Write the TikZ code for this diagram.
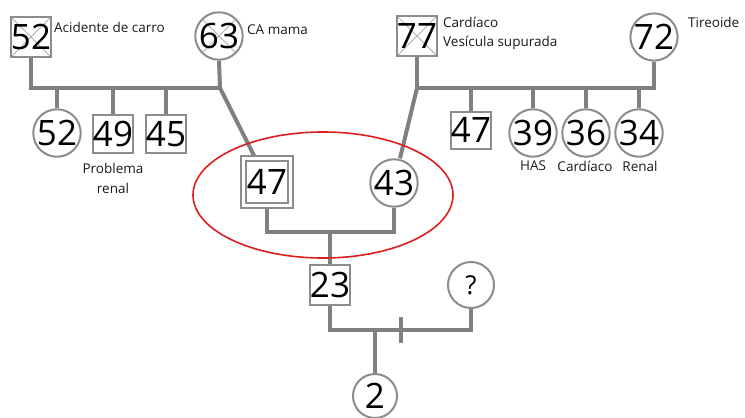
\documentclass[tikz,border=0pt]{standalone}
\usepackage{fontspec}
\setmainfont{Open Sans}
\pgfdeclarelayer{bg}
\pgfsetlayers{bg,main}
\begin{document}
\begin{tikzpicture}[x=1pt,y=-1pt,
  num/.style={font=\fontsize{35}{35}\selectfont, inner sep=0pt, draw=linegray, line width=2pt, fill=white, text=black},
  male/.style={num, rectangle, minimum size=40pt},
  fem/.style={num, circle, minimum size=43pt},
  dead/.style={path picture={\draw[xgray,line width=1pt] (path picture bounding box.north west) -- (path picture bounding box.south east) (path picture bounding box.north east) -- (path picture bounding box.south west);}},
  lbl/.style={font=\fontsize{13.5}{15}\selectfont, inner sep=0pt, text=black!90},
  conn/.style={draw=conngray, line width=4pt},
]
\definecolor{linegray}{RGB}{140,140,140}
\definecolor{conngray}{RGB}{128,128,128}
\definecolor{xgray}{RGB}{175,175,175}
\useasboundingbox (0,0) rectangle (745,418);

% coordinates
\coordinate (u1) at (220,88);
\coordinate (u2) at (417,88);
\coordinate (pu) at (330,232);
\coordinate (u3) at (375,330);
\coordinate (t1) at (401,317);
\coordinate (t2) at (401,343);

% nodes
\node[male,dead] (gp1m) at (31,37) {52};
\node[fem,dead] (gp1f) at (219,36) {63};
\node[fem] (a1) at (57,133) {52};
\node[male,minimum size=38pt] (a2) at (113,134) {49};
\node[male,minimum size=38pt] (a3) at (166,134) {45};
\node[male, minimum size=47pt, double=white, double distance=3.5pt, line width=1.8pt] (fa) at (267,182) {47};
\node[fem, minimum size=46pt] (mo) at (394,183) {43};
\node[male,dead] (gp2m) at (417,36) {77};
\node[fem] (gp2f) at (654,37) {72};
\node[male,minimum size=37pt] (b1) at (471,130) {47};
\node[fem,minimum size=41pt] (b2) at (533,133) {39};
\node[fem,minimum size=41pt] (b3) at (586,133) {36};
\node[fem,minimum size=41pt] (b4) at (639,133) {34};
\node[male] (p) at (330,285) {23};
\node[fem,minimum size=46pt,font=\fontsize{26}{26}\selectfont] (q) at (471,285) {?};
\node[fem,minimum size=44pt] (c) at (375,396) {2};

% connectors
\begin{pgfonlayer}{bg}
\draw[conn] (gp1m.south) |- (u1);
\draw[conn] (gp1f.south) -- (u1);
\draw[conn] (u1) -- ([xshift=-12pt]fa.north);
\foreach \n in {a1,a2,a3} \draw[conn] (\n.north) -- (\n.north |- u1);
\draw[conn] (gp2m.south) -- (u2);
\draw[conn] (gp2f.south) |- (u2);
\draw[conn] (u2) -- ([xshift=6pt]mo.north);
\foreach \n in {b1,b2,b3,b4} \draw[conn] (\n.north) -- (\n.north |- u2);
\draw[conn] (fa.south) |- (pu) -| (mo.south);
\draw[conn] (pu) -- (p.north);
\draw[conn] (p.south) |- (u3) -| (q.south);
\draw[conn] (u3) -- (c.north);
\draw[conn] (t1) -- (t2);
\end{pgfonlayer}

% labels
\node[lbl,anchor=west] (l1) at (54,27) {Acidente de carro};
\node[lbl,anchor=west] (l2) at (247,30) {CA mama};
\node[lbl,anchor=west] (l3) at (443,22) {Cardíaco};
\node[lbl,anchor=west] (l4) at (443,43) {Vesícula supurada};
\node[lbl,anchor=west] (l5) at (688,22) {Tireoide};
\node[lbl] (l6) at (113,168) {Problema};
\node[lbl] (l7) at (113,188) {renal};
\node[lbl] (l8) at (533,166) {HAS};
\node[lbl] (l9) at (585,166) {Cardíaco};
\node[lbl] (l10) at (640,166) {Renal};

% red ellipse
\draw[draw={rgb,255:red,220;green,30;blue,30}, line width=1.6pt] (323,195) ellipse [x radius=130, y radius=63];
\end{tikzpicture}
\end{document}
